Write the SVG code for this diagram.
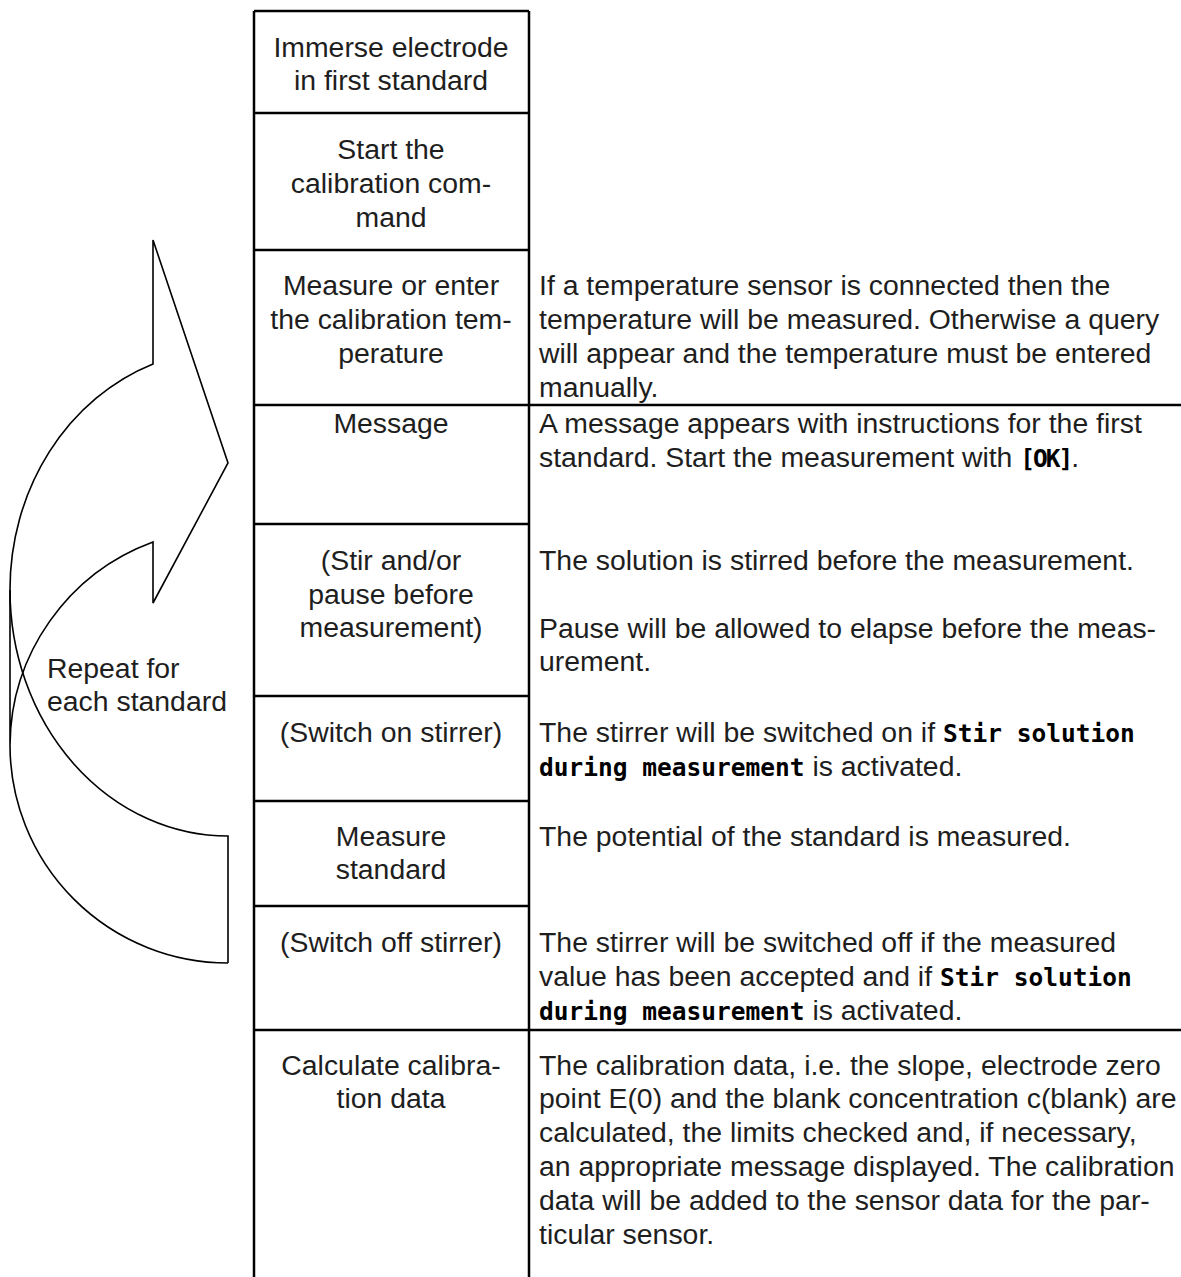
<svg xmlns="http://www.w3.org/2000/svg" width="1181" height="1277" viewBox="0 0 1181 1277">
<style>
.t{font-family:"Liberation Sans",Arial,sans-serif;font-size:28.4px;fill:#1e1e1e}
.c{text-anchor:middle}
.b{font-family:"DejaVu Sans Mono","Liberation Mono",monospace;font-weight:bold;font-size:24.5px;fill:#000}
.k{letter-spacing:-2px}
.ln{stroke:#000;stroke-width:2.5;fill:none}
.ar{stroke:#000;stroke-width:1.6;fill:none;stroke-linejoin:miter}
</style>
<rect width="1181" height="1277" fill="#fff"/>
<g id="connectors">
  <g id="repeat-arrow">
    <path class="ar" d="M228,963 A218,218 0 0 1 10,745 L10,590 A218,240 0 0 1 153,364 L153,240 L228,463 L153,603 L153,542 A218,218 0 0 0 10,745"/>
    <path class="ar" d="M228,963 L228,836 A218,246 0 0 1 10,590"/>
  </g>
</g>
<g id="table">
  <path class="ln" d="M254,11 H529 M254,11 V1277 M529,11 V1277 M254,113 H529 M254,250 H529 M254,405 H1181 M254,524 H529 M254,696 H529 M254,801 H529 M254,906 H529 M254,1030 H1181"/>
</g>
<g id="label-repeat"><text class="t" x="47" y="678">Repeat for</text><text class="t" x="47" y="711">each standard</text></g>
<g id="n1"><text class="t c" x="391" y="57">Immerse electrode</text><text class="t c" x="391" y="90">in first standard</text></g>
<g id="n2"><text class="t c" x="391" y="159">Start the</text><text class="t c" x="391" y="193">calibration com-</text><text class="t c" x="391" y="227">mand</text></g>
<g id="n3"><text class="t c" x="391" y="295">Measure or enter</text><text class="t c" x="391" y="329">the calibration tem-</text><text class="t c" x="391" y="363">perature</text></g>
<g id="d3"><text class="t" x="539" y="295">If a temperature sensor is connected then the</text><text class="t" x="539" y="329">temperature will be measured. Otherwise a query</text><text class="t" x="539" y="363">will appear and the temperature must be entered</text><text class="t" x="539" y="397">manually.</text></g>
<g id="n4"><text class="t c" x="391" y="433">Message</text></g>
<g id="d4"><text class="t" x="539" y="433">A message appears with instructions for the first</text><text class="t" x="539" y="467">standard. Start the measurement with <tspan class="b k">[OK]</tspan>.</text></g>
<g id="n5"><text class="t c" x="391" y="570">(Stir and/or</text><text class="t c" x="391" y="604">pause before</text><text class="t c" x="391" y="637">measurement)</text></g>
<g id="d5"><text class="t" x="539" y="570">The solution is stirred before the measurement.</text><text class="t" x="539" y="638">Pause will be allowed to elapse before the meas-</text><text class="t" x="539" y="671">urement.</text></g>
<g id="n6"><text class="t c" x="391" y="742">(Switch on stirrer)</text></g>
<g id="d6"><text class="t" x="539" y="742">The stirrer will be switched on if <tspan class="b">Stir solution</tspan></text><text class="t" x="539" y="776"><tspan class="b">during measurement</tspan> is activated.</text></g>
<g id="n7"><text class="t c" x="391" y="846">Measure</text><text class="t c" x="391" y="879">standard</text></g>
<g id="d7"><text class="t" x="539" y="846">The potential of the standard is measured.</text></g>
<g id="n8"><text class="t c" x="391" y="952">(Switch off stirrer)</text></g>
<g id="d8"><text class="t" x="539" y="952">The stirrer will be switched off if the measured</text><text class="t" x="539" y="986">value has been accepted and if <tspan class="b">Stir solution</tspan></text><text class="t" x="539" y="1020"><tspan class="b">during measurement</tspan> is activated.</text></g>
<g id="n9"><text class="t c" x="391" y="1075">Calculate calibra-</text><text class="t c" x="391" y="1108">tion data</text></g>
<g id="d9"><text class="t" x="539" y="1075">The calibration data, i.e. the slope, electrode zero</text><text class="t" x="539" y="1108">point E(0) and the blank concentration c(blank) are</text><text class="t" x="539" y="1142">calculated, the limits checked and, if necessary,</text><text class="t" x="539" y="1176">an appropriate message displayed. The calibration</text><text class="t" x="539" y="1210">data will be added to the sensor data for the par-</text><text class="t" x="539" y="1244">ticular sensor.</text></g>
</svg>
